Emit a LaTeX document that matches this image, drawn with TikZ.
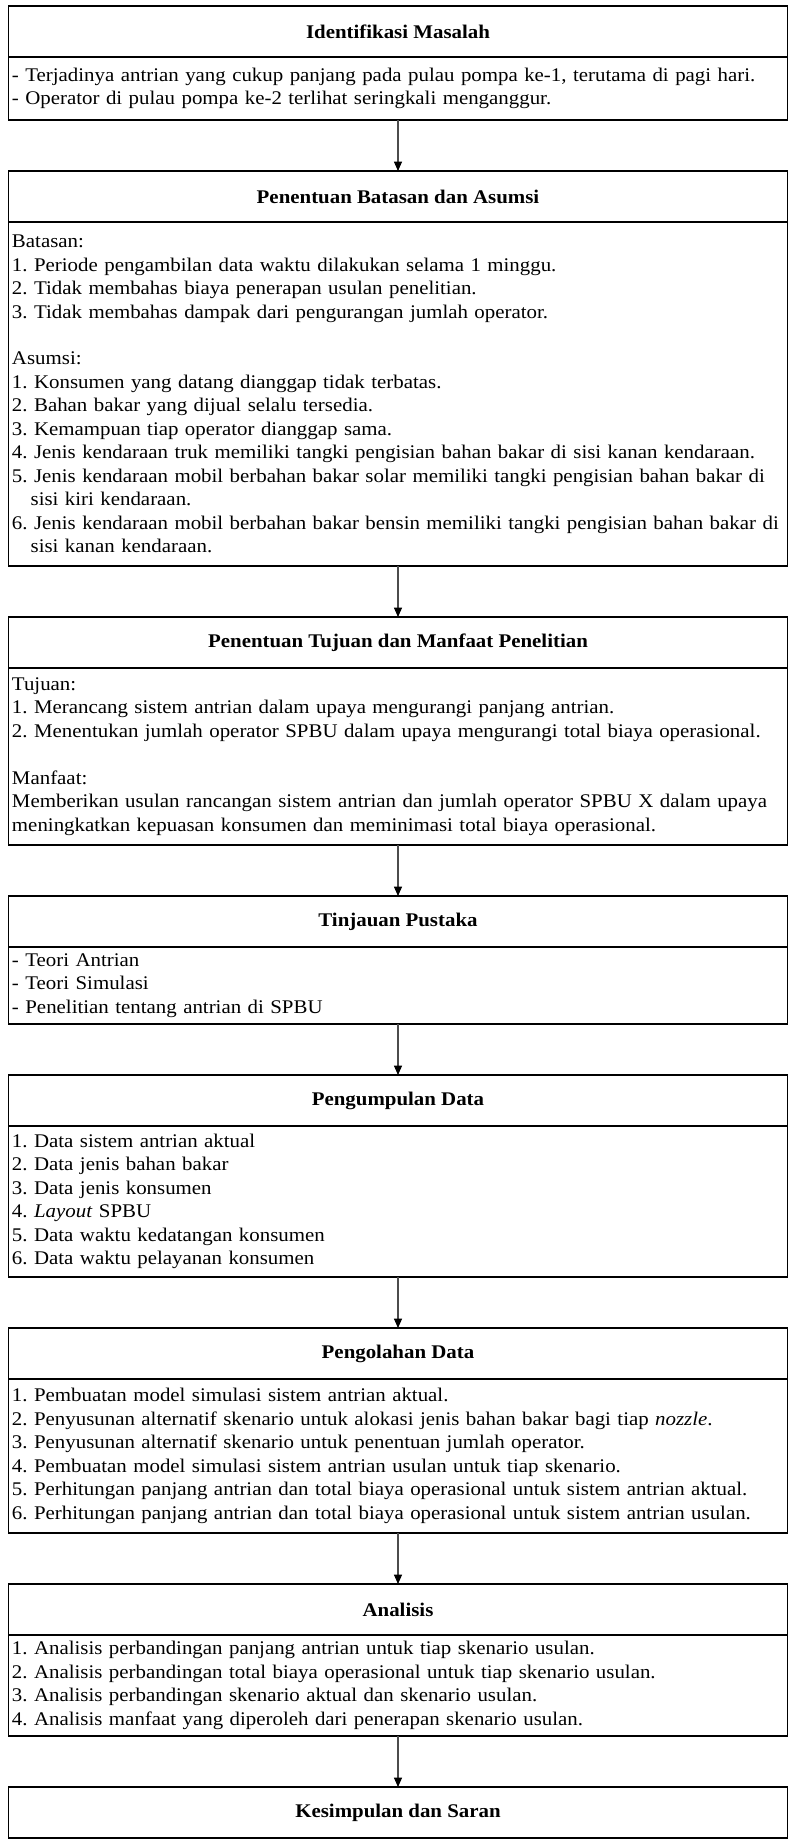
\documentclass[tikz,border=0pt]{standalone}
\usepackage{fontspec}
\setmainfont{Liberation Serif}[FakeStretch=1.08]
\usetikzlibrary{positioning,arrows.meta}
\frenchspacing

\tikzset{
  judul/.style={draw, line width=0.8pt, outer sep=0pt, minimum width=584.6pt, minimum height=38.25pt,
    inner sep=0pt, font=\fontsize{14.5}{17.6}\selectfont\bfseries},
  isi/.style={draw, line width=0.8pt, outer sep=0pt, text width=579pt, inner xsep=2.8pt, inner ysep=2pt,
    align=left, font=\fontsize{14.5}{17.6}\selectfont},
  panah/.style={draw=black!70, line width=0.8pt, -{Triangle[width=6pt,length=7pt,color=black]}}
}
\newcommand{\gantung}{\hspace*{14pt}}

\begin{document}
\begin{tikzpicture}[x=0.75pt,y=-0.75pt, node distance=38.25pt]
\useasboundingbox (0,0) rectangle (789,1842);

% identifikasi
\node[judul, anchor=north] (h1) at (398,6) {Identifikasi Masalah};
\node[isi, minimum height=47.25pt, below=0pt of h1] (b1) {- Terjadinya antrian yang cukup panjang pada pulau pompa ke-1, terutama di pagi hari.\\
- Operator di pulau pompa ke-2 terlihat seringkali menganggur.};

% batasan dan asumsi
\node[judul, below=of b1] (h2) {Penentuan Batasan dan Asumsi};
\node[isi, minimum height=258pt, below=0pt of h2] (b2) {Batasan:\\
1. Periode pengambilan data waktu dilakukan selama 1 minggu.\\
2. Tidak membahas biaya penerapan usulan penelitian.\\
3. Tidak membahas dampak dari pengurangan jumlah operator.\\[17.6pt]
Asumsi:\\
1. Konsumen yang datang dianggap tidak terbatas.\\
2. Bahan bakar yang dijual selalu tersedia.\\
3. Kemampuan tiap operator dianggap sama.\\
4. Jenis kendaraan truk memiliki tangki pengisian bahan bakar di sisi kanan kendaraan.\\
5. Jenis kendaraan mobil berbahan bakar solar memiliki tangki pengisian bahan bakar di\\
\gantung sisi kiri kendaraan.\\
6. Jenis kendaraan mobil berbahan bakar bensin memiliki tangki pengisian bahan bakar di\\
\gantung sisi kanan kendaraan.};

% tujuan dan manfaat
\node[judul, below=of b2] (h3) {Penentuan Tujuan dan Manfaat Penelitian};
\node[isi, minimum height=132.75pt, below=0pt of h3] (b3) {Tujuan:\\
1. Merancang sistem antrian dalam upaya mengurangi panjang antrian.\\
2. Menentukan jumlah operator SPBU dalam upaya mengurangi total biaya operasional.\\[17.6pt]
Manfaat:\\
\makebox[579pt][s]{Memberikan usulan rancangan sistem antrian dan jumlah operator SPBU X dalam upaya}\\
meningkatkan kepuasan konsumen dan meminimasi total biaya operasional.};

% tinjauan pustaka
\node[judul, below=of b3] (h4) {Tinjauan Pustaka};
\node[isi, minimum height=57.75pt, below=0pt of h4] (b4) {- Teori Antrian\\
- Teori Simulasi\\
- Penelitian tentang antrian di SPBU};

% pengumpulan data
\node[judul, below=of b4] (h5) {Pengumpulan Data};
\node[isi, minimum height=113.25pt, below=0pt of h5] (b5) {1. Data sistem antrian aktual\\
2. Data jenis bahan bakar\\
3. Data jenis konsumen\\
4. \textit{Layout} SPBU\\
5. Data waktu kedatangan konsumen\\
6. Data waktu pelayanan konsumen};

% pengolahan data
\node[judul, below=of b5] (h6) {Pengolahan Data};
\node[isi, minimum height=115.5pt, below=0pt of h6] (b6) {1. Pembuatan model simulasi sistem antrian aktual.\\
2. Penyusunan alternatif skenario untuk alokasi jenis bahan bakar bagi tiap \textit{nozzle}.\\
3. Penyusunan alternatif skenario untuk penentuan jumlah operator.\\
4. Pembuatan model simulasi sistem antrian usulan untuk tiap skenario.\\
5. Perhitungan panjang antrian dan total biaya operasional untuk sistem antrian aktual.\\
6. Perhitungan panjang antrian dan total biaya operasional untuk sistem antrian usulan.};

% analisis
\node[judul, below=of b6] (h7) {Analisis};
\node[isi, minimum height=75.75pt, below=0pt of h7] (b7) {1. Analisis perbandingan panjang antrian untuk tiap skenario usulan.\\
2. Analisis perbandingan total biaya operasional untuk tiap skenario usulan.\\
3. Analisis perbandingan skenario aktual dan skenario usulan.\\
4. Analisis manfaat yang diperoleh dari penerapan skenario usulan.};

% kesimpulan
\node[judul, below=of b7] (h8) {Kesimpulan dan Saran};

\draw[panah] (b1) -- (h2);
\draw[panah] (b2) -- (h3);
\draw[panah] (b3) -- (h4);
\draw[panah] (b4) -- (h5);
\draw[panah] (b5) -- (h6);
\draw[panah] (b6) -- (h7);
\draw[panah] (b7) -- (h8);

\end{tikzpicture}
\end{document}
